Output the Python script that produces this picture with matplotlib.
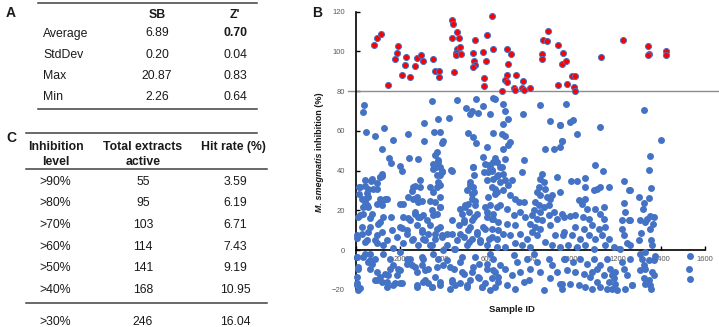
import numpy as np
import matplotlib.pyplot as plt
from matplotlib.lines import Line2D

plt.rcParams['font.family'] = ['Liberation Sans', 'DejaVu Sans']

# ---- table A ----
statA = ['Average', 'StdDev', 'Max', 'Min']
sb_vals = ['6.89', '0.20', '20.87', '2.26']
z_vals = ['0.70', '0.04', '0.83', '0.64']

# ---- table C ----
levels = ['>90%', '>80%', '>70%', '>60%', '>50%', '>40%', '>30%']
total_active = [55, 95, 103, 114, 141, 168, 246]
hit_rate = ['3.59', '6.19', '6.71', '7.43', '9.19', '10.95', '16.04']

# ---- panel B: hits above the 80% line ----
red_points = [
    (83, 103), (98, 107), (113, 109), (145, 83), (179, 96), (190, 99), (194, 102.5),
    (210, 88), (229, 97), (226, 93), (248, 87), (269, 92.5), (278, 96.6), (297, 98),
    (309, 95), (352, 96), (362, 90), (381, 90), (379, 87), (439, 115.6), (446, 114),
    (442, 107), (451, 89.6), (465, 110), (471, 107), (462, 101), (477, 102), (459, 99),
    (457, 98), (482, 98.5), (538, 99), (547, 106), (543, 95), (544, 93), (538, 92),
    (587, 86.6), (586, 82.4), (584, 99.6), (602, 108.5), (596, 95), (622, 117.6),
    (630, 101), (691, 101), (712, 98.8), (696, 93.8), (694, 88), (732, 88), (683, 85.4),
    (694, 84.8), (766, 85), (725, 81.4), (731, 80.4), (760, 81.4), (772, 80.5),
    (798, 81.8), (670, 80.3), (855, 106), (878, 110.5), (876, 105.5), (853, 98.8),
    (853, 96.3), (928, 103), (950, 99), (946, 93.6), (962, 95), (928, 83), (968, 83.4),
    (991, 87.8), (1005, 87.8), (999, 82), (1003, 80.1), (1122, 97), (1223, 106),
    (1337, 102.5), (1344, 98.8), (1337, 98), (1422, 100), (1422, 98),
]

# ---- panel B: all other samples ----
blue_points = [
    # 0-320
    (37, 73), (31, 69.5), (44, 59.5), (128, 61.6), (87, 57.4), (171, 55.3), (240, 58.6),
    (118, 51), (153, 46.6), (161, 44), (202, 42.4), (209, 40), (244, 46.4), (285, 46),
    (312, 64), (312, 55),
    (41, 35.5), (72, 36), (118, 38.6), (110, 37), (18, 31.8), (56, 31), (95, 31),
    (15, 28.5), (41, 26), (34, 21.9), (49, 22.8), (110, 26), (133, 25.8), (118, 22.8),
    (18, 17.6), (64, 16), (110, 14.2), (159, 16.7), (26, 11.7), (3, 7.5), (56, 9.2),
    (95, 7.5), (41, 4.2), (95, 3.4), (125, 2.5), (168, 1.2), (209, 11.2), (217, 23.5),
    (263, 31.8), (294, 35.2), (263, 26), (285, 24.3), (271, 19.3), (294, 16.7), (240, 16),
    (278, 12.6), (301, 9.2), (232, 10), (255, 5), (217, 3.4), (285, 2.5), (309, 5.9),
    (3, -3.4), (11, -9.2), (3, -16.7), (11, -20), (34, -3.4), (64, -1.7), (87, -4.2),
    (125, -1.7), (95, -10.9), (87, -15), (118, -15.9), (148, -12.6), (171, -17.6),
    (202, -16.7), (194, -9.2), (232, -4.2), (255, -7.5), (278, -10.9), (301, -7.5),
    (309, -15.9), (278, -18.4), (202, -0.8), (156, -4.2), (64, -9.2), (56, -5.9),
    (140, -18.4),
    # 320-660 upper
    (350, 75), (378, 66), (383, 59.5), (358, 59.5), (398, 55), (393, 53.7), (427, 66.7),
    (438, 39.7), (462, 75.8), (503, 71.7), (512, 59), (523, 68.7), (534, 70), (557, 69),
    (551, 76), (538, 57), (549, 53.7), (535, 42), (581, 72.8), (612, 68.3), (630, 76.7),
    (638, 76.3), (630, 59.2), (355, 43.3), (367, 41.7), (378, 45.3), (383, 38),
    (373, 49.2), (393, 39.7), (363, 48), (600, 52), (581, 46.7), (592, 43.3), (615, 41.7),
    (630, 44.2), (607, 39.2), (646, 37.5), (658, 41.7),
    # 0-660 dense band
    (15, 31.7), (41, 32.5), (49, 29), (69, 35), (76, 31), (95, 34), (118, 37.5),
    (110, 36.7), (26, 25.8), (41, 24.2), (57, 26.7), (57, 21.7), (72, 18.3), (34, 18.3),
    (11, 16.7), (95, 23.3), (118, 25), (141, 25.8), (125, 16.7), (103, 13.3), (64, 11.7),
    (26, 8.3), (3, 6.3), (49, 5), (87, 5), (118, 9.2), (141, 5), (164, 10), (187, 6.7),
    (202, 11.7), (217, 16.7), (202, 23.3), (240, 26.7), (256, 30), (271, 32.5),
    (278, 26.7), (294, 31.7), (301, 25), (271, 18.3), (248, 15), (286, 16.7), (309, 17.5),
    (233, 8.3), (263, 5.8), (301, 10), (317, 5), (332, 8.3), (324, 15), (347, 20),
    (340, 25), (355, 29.2), (370, 31.7), (386, 26.7), (386, 21.7), (370, 18.3),
    (386, 11.7), (363, 8.3), (393, 6.7), (347, 2.5), (416, 8.3), (439, 15), (462, 5),
    (447, 0.8), (477, 8.3), (493, 15), (500, 21.7), (485, 18.3), (515, 23.3), (531, 28.3),
    (538, 31.7), (523, 34.2), (546, 25), (554, 18.3), (531, 15), (515, 10), (554, 8.3),
    (569, 5), (518, 4.2), (584, 11.7), (600, 16.7), (592, 21.7), (607, 26.7), (623, 31.7),
    (638, 28.3), (646, 21.7), (630, 15.8), (653, 10), (623, 6.7), (646, 1.7), (600, 2.5),
    (6, -3.3), (11, -8.3), (3, -13.3), (6, -17.5), (18, -19.2), (41, -1.7), (64, -5),
    (72, -6.7), (95, -15), (110, -13.3), (133, -11.7), (141, -15.8), (156, -9.2),
    (171, -7.5), (187, -12.5), (179, -16.7), (202, -10), (209, -16.7), (233, -6.7),
    (248, -4.2), (271, -8.3), (278, -17.5), (301, -3.3), (317, -10), (332, -16.7),
    (347, -18.3), (363, -13.3), (370, -8.3), (386, -17.5), (355, -1.7), (401, 0),
    (416, -5), (431, -8.3), (439, -15.8), (454, -17.5), (477, -16.7), (485, -3.3),
    (493, -11.7), (508, -18.3), (523, -15), (538, -8.3), (546, -3.3), (561, -13.3),
    (577, -18.3), (592, -16.7), (600, -6.7), (615, -1.7), (630, -10), (638, -18.3),
    (653, -13.3),
    # 290-640 second pass
    (378, 44.4), (355, 41), (386, 41.9), (371, 37.7), (393, 39.4), (436, 40.2),
    (374, 34.3), (340, 31.8), (386, 32.7), (536, 41.9), (539, 37.7), (585, 39.4),
    (608, 42.7), (623, 40.2), (600, 35.2),
    (508, 30.2), (523, 32.7), (539, 29.3), (531, 26), (501, 22.6), (546, 22.6), (478, 20.9),
    (516, 19.3), (539, 16.8), (493, 14.2), (470, 12.6), (523, 11.7), (554, 9.2), (439, 8.4),
    (493, 6.7), (531, 5.9), (569, 4.2), (363, 24.3), (386, 21.8), (355, 17.6), (340, 12.6),
    (371, 10.9), (363, 5.9), (393, 7.5), (340, 2.5), (416, 2.5), (455, 0.8), (508, 2.5),
    (600, 19.3), (615, 22.6), (623, 15.9), (592, 10.9), (608, 5.9),
    (309, -4.2), (332, -9.2), (317, -15.1), (348, -18.4), (378, -4.2), (401, -7.5),
    (386, -15.9), (439, -15.1), (447, -9.2), (478, -5.9), (485, -10.9), (508, -17.6),
    (531, -10.9), (562, -6.7), (562, -14.2), (577, -18.4), (600, -9.2), (623, -14.2),
    (615, -20.1), (432, -19.3),
    # 615-960
    (676, 73.7), (684, 70), (695, 66), (676, 63.6), (669, 58.6), (684, 57.5),
    (707, 54.4), (676, 50.8), (699, 53), (765, 68.7), (845, 72.9), (890, 64.8), (936, 63.2),
    (867, 50.8), (906, 50.8), (936, 51.9), (944, 54.8), (768, 45.2), (760, 39.4), (638, 46.4),
    (646, 44.4), (684, 46), (669, 41.9),
    (623, 40), (630, 36), (653, 37.7), (676, 38.5), (661, 34.3), (638, 31), (684, 35.2),
    (699, 32.7), (714, 35.2), (646, 29.3), (676, 30.2), (707, 27.6), (730, 26), (745, 24.3),
    (768, 24.3), (661, 22.6), (691, 20.9), (630, 18.4), (722, 17.6), (753, 19.3),
    (776, 16.8), (653, 14.2), (691, 13.4), (730, 12.6), (623, 10.9), (676, 8.4), (707, 7.5),
    (753, 8.4), (783, 5.9), (646, 5.9), (730, 3.4), (760, 2.5), (684, 1.7), (799, 1.7),
    (852, 38.5), (845, 36), (860, 34.3), (837, 31.8), (867, 31), (829, 29.3), (845, 27.6),
    (875, 26.8), (822, 24.3), (837, 22.6), (860, 21.8), (814, 20.1), (845, 19.3),
    (806, 17.6), (829, 15.9), (852, 15.1), (799, 13.4), (822, 11.7), (845, 10.9),
    (806, 9.2), (829, 7.5), (883, 22.6), (890, 26), (883, 17.6), (921, 36.9), (898, 27.6),
    (936, 29.3), (906, 19.3), (921, 15.9), (944, 18.4), (890, 12.6), (913, 7.5), (952, 9.2),
    (867, 4.2), (898, 2.5), (936, 1.7),
    (630, -4.2), (661, -7.5), (638, -10.9), (684, -9.2), (653, -15.9), (691, -17.6),
    (722, -2.5), (738, -5.9), (714, -12.6), (753, -10.9), (768, -15.9), (730, -19.3),
    (783, -4.2), (799, -9.2), (791, -15.1), (814, -1.7), (829, -5.9), (845, -10.9),
    (860, -20.1), (883, -4.2), (898, -7.5), (890, -14.2), (921, -10.9), (936, -16.8),
    (952, -4.2), (944, -19.3),
    # 935-1280
    (963, 73.7), (982, 64.5), (994, 65.7), (936, 62.8), (1012, 58.6), (944, 54.8),
    (1117, 62), (1097, 43), (1132, 39.9), (1048, 36.5), (1012, 34.7), (985, 34.8),
    (1051, 31.8), (1089, 30.2), (1120, 31.8), (1158, 31.8), (1104, 31), (1227, 34.8),
    (1250, 30.2),
    (1020, 25.1), (1051, 26), (1035, 23.5), (1058, 20.9), (1097, 20.9), (1135, 21.8),
    (954, 16.8), (982, 17.1), (1005, 17.6), (1040, 16.8), (1066, 15.9), (1120, 18.4),
    (1135, 15.9), (1227, 23.8), (1234, 19.3), (1219, 15.1), (1250, 15.1), (1005, 11.7),
    (1043, 10.9), (1081, 12.6), (1112, 10.9), (1143, 11.7), (1219, 10.9), (951, 7.5),
    (990, 7.5), (1028, 5.9), (1066, 7.5), (1097, 5.9), (1127, 7.5), (1158, 5.9),
    (1227, 7.5), (1242, 3.4), (974, 2.5), (1012, 1.7), (1051, 2.5), (1089, 0.8),
    (1143, 2.5), (1181, 1.7), (1211, 0.8),
    (959, -4.2), (997, -5.9), (1028, -4.2), (1058, -6.7), (1089, -4.2), (1120, -7.5),
    (1150, -4.2), (967, -10.1), (1005, -10.9), (1043, -11.7), (1081, -10.9), (1104, -9.2),
    (1135, -12.6), (1165, -9.2), (1173, -12.6), (1188, -10.9), (944, -16.8), (982, -16.8),
    (1020, -17.6), (1051, -18.4), (1081, -19.3), (1120, -18.4), (1158, -15.9),
    (1173, -19.3), (1188, -16.8), (1196, -20.1), (1181, -14.2), (1150, -19.3),
    (1219, -5.9), (1227, -9.2), (1242, -12.6), (1234, -19.3), (1265, -17.6), (1257, -4.2),
    (1074, -13.4), (1104, -15.9),
    # 1250-1540
    (1318, 70.7), (1398, 55.6), (1346, 47.2), (1343, 40.2), (1352, 31.3), (1295, 26.8),
    (1341, 26.3), (1321, 24), (1315, 20.6), (1257, 30.2), (1303, 15.1), (1333, 15.9),
    (1346, 17.3), (1364, 16.8), (1326, 14.2), (1361, 13.4), (1346, 10.6), (1306, 8.9),
    (1257, 15.1), (1295, 5), (1352, 5), (1356, 2.8), (1257, 2.8),
    (1303, -1.7), (1326, -0.8), (1310, -4.2), (1372, -2.8), (1341, -5), (1364, -5),
    (1318, -7.5), (1303, -10.1), (1326, -9.2), (1356, -10.9), (1364, -12.6), (1318, -14.2),
    (1341, -15.1), (1326, -16.8), (1349, -17.6), (1352, -19.3), (1265, -17.6),
    (1532, -2.8), (1526, -9.2), (1529, -14.6),
]

W, H = 719, 327
fig = plt.figure(figsize=(W / 100, H / 100), dpi=100)
txt = '#1a1a1a'
rule = '#404040'


def fx(px):
    return px / W


def fy(py):
    return 1 - py / H


def hline(x0, x1, py, lw=1.1):
    fig.add_artist(Line2D([fx(x0), fx(x1)], [fy(py), fy(py)], color=rule, lw=lw,
                          transform=fig.transFigure))


fs = 8.8

# ---- panel A table ----
fig.text(fx(6), fy(13), 'A', fontsize=10, fontweight='bold', va='center', color=txt)
hline(38, 257, 2.5)
fig.text(fx(157), fy(15), 'SB', fontsize=fs, fontweight='bold', ha='center', va='center', color=txt)
fig.text(fx(235), fy(15), "Z'", fontsize=fs, fontweight='bold', ha='center', va='center', color=txt)
rowsA = [33.5, 54.5, 75.8, 96.8]
for i, name in enumerate(statA):
    fig.text(fx(43), fy(rowsA[i]), name, fontsize=fs, va='center', color=txt)
    fig.text(fx(157), fy(rowsA[i]), sb_vals[i], fontsize=fs, ha='center', va='center', color=txt)
    fig.text(fx(235), fy(rowsA[i]), z_vals[i], fontsize=fs, ha='center', va='center',
             fontweight='bold' if i == 0 else 'normal', color=txt)
hline(38, 257, 109)

# ---- panel C table ----
fig.text(fx(6), fy(138), 'C', fontsize=10, fontweight='bold', va='center', color=txt)
hline(26, 257, 132.5)
fig.text(fx(56), fy(147), 'Inhibition', fontsize=fs, fontweight='bold', ha='center', va='center', color=txt)
fig.text(fx(56), fy(162), 'level', fontsize=fs, fontweight='bold', ha='center', va='center', color=txt)
fig.text(fx(143), fy(147), 'Total extracts', fontsize=fs, fontweight='bold', ha='center', va='center', color=txt)
fig.text(fx(143), fy(162), 'active', fontsize=fs, fontweight='bold', ha='center', va='center', color=txt)
fig.text(fx(233), fy(147), 'Hit rate (%)', fontsize=fs, fontweight='bold', ha='center', va='center', color=txt)
hline(26, 267, 169)
rowsC = [182, 203.5, 225, 246.7, 268.2, 290, 322]
for i, lv in enumerate(levels):
    fig.text(fx(55), fy(rowsC[i]), lv, fontsize=fs, ha='center', va='center', color=txt)
    fig.text(fx(143), fy(rowsC[i]), str(total_active[i]), fontsize=fs, ha='center', va='center', color=txt)
    fig.text(fx(235), fy(rowsC[i]), hit_rate[i], fontsize=fs, ha='center', va='center', color=txt)
hline(26, 267, 303)

# ---- panel B scatter ----
fig.text(fx(312), fy(13), 'B', fontsize=10, fontweight='bold', va='center', color=txt)
ax = fig.add_axes([fx(356), fy(290), fx(719) - fx(356), fy(11.7) - fy(290)])
bx, by = zip(*blue_points)
rx, ry = zip(*red_points)
ax.axhline(80, xmin=-8 / 363, xmax=1, color='#8c8c8c', lw=1, zorder=2, clip_on=False)
ax.scatter(bx, by, s=25, c='#4472C4', linewidths=0, zorder=3, clip_on=False)
ax.scatter(rx, ry, s=19, c='#FF0000', edgecolors='#4472C4', linewidths=0.7, zorder=4, clip_on=False)

ax.set_xlim(0, 1664)
ax.set_ylim(-20, 120)
for s in ['top', 'right']:
    ax.spines[s].set_visible(False)
ax.spines['bottom'].set_position(('data', 0))
ax.spines['bottom'].set_bounds(0, 1600)
ax.spines['bottom'].set_linewidth(1.2)
ax.spines['left'].set_linewidth(1.2)
ax.set_xticks(range(0, 1601, 200))
ax.set_yticks(range(-20, 121, 20))
ax.tick_params(axis='x', direction='in', length=3, width=1, labelsize=5.5,
               labelcolor='#595959', pad=4)
ax.tick_params(axis='y', direction='in', length=3, width=1, labelsize=5.5,
               labelcolor='#595959', pad=8)
ax.patch.set_alpha(0)

# y label: italic species name followed by plain bold text, stacked bottom-up
renderer = fig.canvas.get_renderer()
part1 = fig.text(fx(319), fy(212), 'M. smegmatis', rotation=90, fontsize=6.5,
                 fontweight='bold', fontstyle='italic', ha='center', va='bottom', color=txt)
h1 = part1.get_window_extent(renderer).height
fig.text(fx(319), fy(212 - h1 - 2), 'inhibition (%)', rotation=90, fontsize=6.5,
         fontweight='bold', ha='center', va='bottom', color=txt)
fig.text(fx(512), fy(310), 'Sample ID', fontsize=6.8, fontweight='bold', ha='center',
         va='center', color=txt)

fig.savefig('out.png', dpi=100)
